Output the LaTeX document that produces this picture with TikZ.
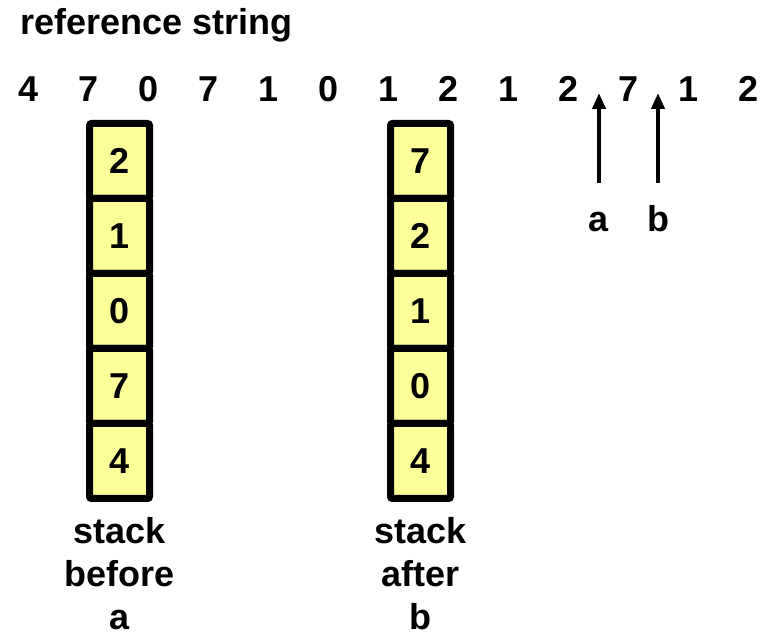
\documentclass[tikz,border=0pt]{standalone}
\usepackage{fontspec}
\setmainfont{Liberation Sans}
\usepackage{tikz}
\usetikzlibrary{arrows.meta,positioning}

\definecolor{cellyellow}{HTML}{FFFF99}

\begin{document}
\begin{tikzpicture}[x=1pt,y=1pt,node distance=0pt,
    every node/.style={font=\fontsize{36}{43}\selectfont\bfseries,inner sep=0pt},
    cell/.style={draw,line width=7pt,fill=cellyellow,rounded corners=2pt,
                 minimum width=60pt,minimum height=75pt,outer sep=0pt},
    lbl/.style={align=center},
    ptr/.style={-{Triangle[length=16pt,width=13pt]},line width=4.5pt},
    ptrlbl/.style={text height=26pt,text depth=0pt,anchor=base}]

  \useasboundingbox (0,0) rectangle (764,-636);

  \node[anchor=base west] (title) at (20,-35) {reference string};

  % reference string
  \foreach \d [count=\i] in {4,7,0,7,1,0,1,2,1,2,7,1,2}
    \node[anchor=base] (r\i) at ({29+60*(\i-1)},-102) {\d};

  % stack before a
  \node[cell] (a1) at (119.5,-161) {2};
  \node[cell] (a2) [below=of a1] {1};
  \node[cell] (a3) [below=of a2] {0};
  \node[cell] (a4) [below=of a3] {7};
  \node[cell] (a5) [below=of a4] {4};
  \node[lbl] (la) [below=19pt of a5] {stack\\before\\a};

  % stack after b
  \node[cell] (b1) at (420.5,-161) {7};
  \node[cell] (b2) [below=of b1] {2};
  \node[cell] (b3) [below=of b2] {1};
  \node[cell] (b4) [below=of b3] {0};
  \node[cell] (b5) [below=of b4] {4};
  \node[lbl] (lb) [below=19pt of b5] {stack\\after\\b};

  % pointers
  \node[ptrlbl] (pa) at (599,-232) {a};
  \node[ptrlbl] (pb) at (658,-232) {b};
  \coordinate (ta) at (599,-93);
  \coordinate (tb) at (658,-93);
  \draw[ptr,shorten <=23pt] (pa.north) -- (ta);
  \draw[ptr,shorten <=23pt] (pb.north) -- (tb);
\end{tikzpicture}
\end{document}
